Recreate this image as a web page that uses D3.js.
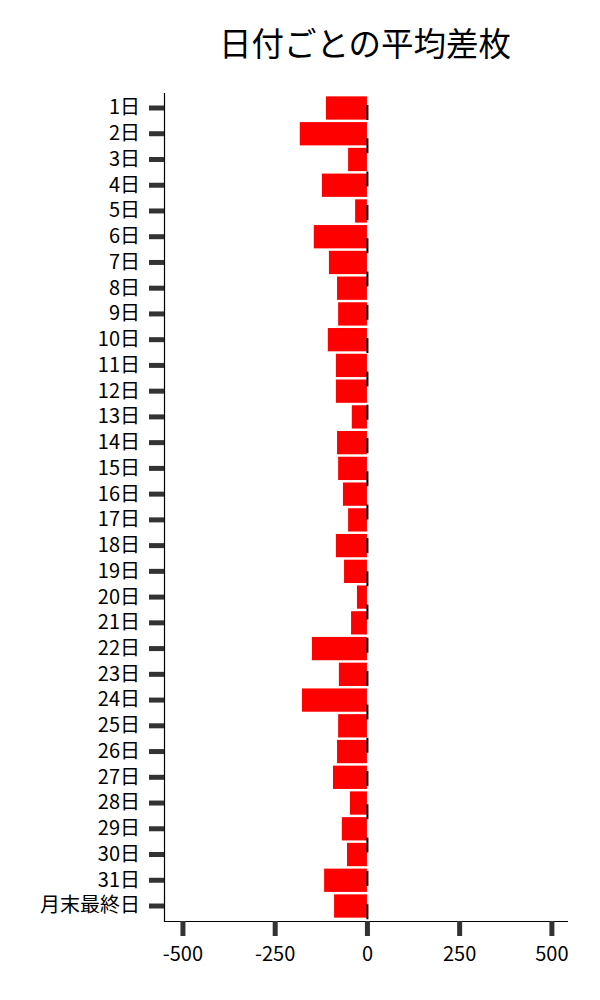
<!DOCTYPE html>
<html>
<head>
<meta charset="utf-8">
<script src="https://cdn.jsdelivr.net/npm/d3@7"></script>
<style>
  body { margin: 0; background: #fff; }
  text { font-family: "Noto Sans CJK JP", "Noto Sans", sans-serif; }
</style>
</head>
<body>
<svg id="chart"></svg>
<script>
const days = ["1日", "2日", "3日", "4日", "5日", "6日", "7日", "8日", "9日", "10日",
  "11日", "12日", "13日", "14日", "15日", "16日", "17日", "18日", "19日", "20日",
  "21日", "22日", "23日", "24日", "25日", "26日", "27日", "28日", "29日", "30日",
  "31日", "月末最終日"];
const avgDiff = [-111, -182, -51, -122, -32, -144, -103, -81, -78, -106,
  -84, -84, -41, -81, -78, -65, -51, -84, -62, -27,
  -43, -149, -76, -176, -78, -81, -92, -46, -68, -54,
  -116, -89];
const xTicks = [-500, -250, 0, 250, 500];
const title = "日付ごとの平均差枚";

const width = 600;
const height = 1000;
const margin = { top: 93, right: 32, bottom: 79, left: 164 };

const svg = d3.select("#chart")
  .attr("width", width)
  .attr("height", height);

const x = d3.scaleLinear()
  .domain([-550, 545])
  .range([margin.left, width - margin.right]);

const y = d3.scaleBand()
  .domain(days)
  .range([margin.top, height - margin.bottom])
  .paddingInner(0.095)
  .paddingOuter(0.13);

// bars
svg.append("g")
  .selectAll("rect")
  .data(days)
  .enter()
  .append("rect")
  .attr("x", (d, i) => x(Math.min(0, avgDiff[i])))
  .attr("y", d => y(d))
  .attr("width", (d, i) => Math.abs(x(avgDiff[i]) - x(0)))
  .attr("height", y.bandwidth())
  .attr("fill", "#ff0000");

// dashed zero line
svg.append("line")
  .attr("x1", x(0) + 0.5)
  .attr("x2", x(0) + 0.5)
  .attr("y1", margin.top)
  .attr("y2", height - margin.bottom)
  .attr("stroke", "#000")
  .attr("stroke-width", 2)
  .attr("stroke-dasharray", "15 18.3")
  .attr("stroke-dashoffset", 21.3);

// y axis
const yAxis = svg.append("g")
  .attr("transform", `translate(${margin.left},0)`)
  .call(d3.axisLeft(y).tickSize(15).tickPadding(9));
yAxis.select(".domain").attr("stroke", "#000").attr("stroke-width", 1.2)
  .attr("d", `M0.5,${margin.top}V${height - margin.bottom}`);
yAxis.selectAll(".tick line").attr("stroke", "#333").attr("stroke-width", 5);
yAxis.selectAll(".tick text").attr("font-size", 20).attr("fill", "#000");

// x axis
const xAxis = svg.append("g")
  .attr("transform", `translate(0,${height - margin.bottom})`)
  .call(d3.axisBottom(x).tickValues(xTicks).tickFormat(d => String(d))
    .tickSize(15).tickPadding(11));
xAxis.select(".domain").attr("stroke", "#000").attr("stroke-width", 1.2)
  .attr("d", `M${margin.left},0.5H${width - margin.right}`);
xAxis.selectAll(".tick line").attr("stroke", "#333").attr("stroke-width", 5);
xAxis.selectAll(".tick text").attr("font-size", 20).attr("fill", "#000");

// title
svg.append("text")
  .attr("x", 365)
  .attr("y", 56)
  .attr("text-anchor", "middle")
  .attr("font-size", 32.5)
  .text(title);
</script>
</body>
</html>
